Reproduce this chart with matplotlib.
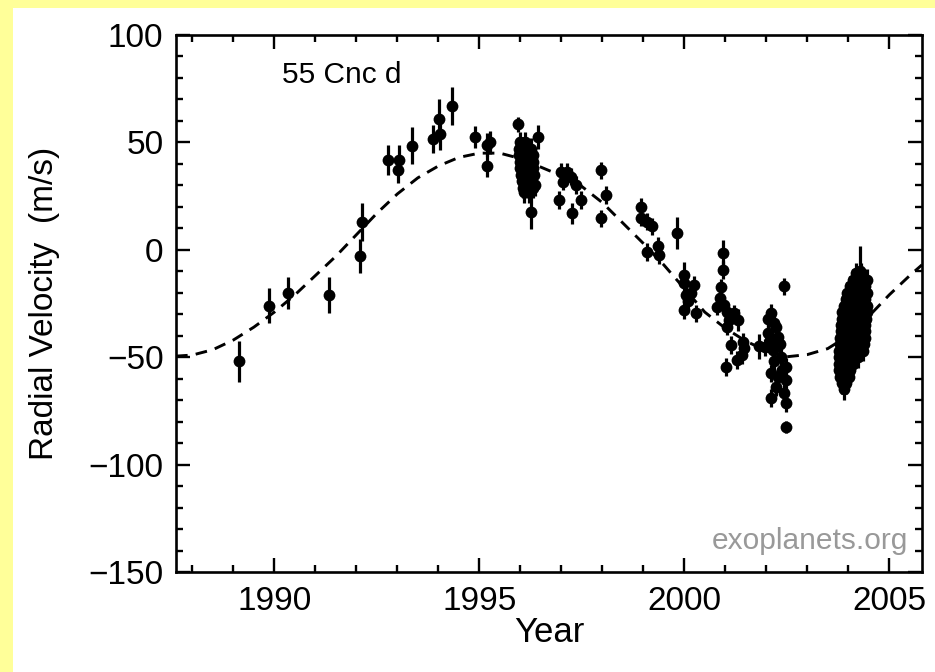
import matplotlib
matplotlib.use("Agg")
import matplotlib.pyplot as plt
from matplotlib.patches import Rectangle
from matplotlib.ticker import MultipleLocator
import numpy as np

plt.rcParams['font.family'] = ['Liberation Sans', 'DejaVu Sans']

# ---- Data ----
# early observations (year, rv, err)
early_year = [1989.13, 1989.86, 1990.33, 1991.34, 1992.08, 1992.14, 1992.78, 1993.04, 1993.02,
              1993.36, 1993.87, 1994.04, 1994.01, 1994.34, 1994.89, 1995.18, 1995.26, 1995.18,
              1995.95, 1996.43, 1996.25]
early_rv = [-52, -26, -20, -21, -3, 13, 42, 42, 37,
            48.5, 51.5, 54, 61, 67, 52.5, 49, 50, 39,
            58.5, 52.5, 17.5]
early_err = [9.5, 8, 7.5, 8.5, 8, 9, 7, 7, 6,
             8.5, 6.5, 7.5, 9, 9, 5, 5.5, 5.5, 5,
             3.5, 5.5, 8]

# 1996 cluster
c96_year = [1996.00, 1996.12,
            1995.98, 1996.06, 1996.16, 1996.26,
            1995.98, 1996.06, 1996.14, 1996.22, 1996.30,
            1996.00, 1996.08, 1996.16, 1996.24, 1996.32,
            1996.00, 1996.08, 1996.16, 1996.24, 1996.32,
            1996.02, 1996.10, 1996.18, 1996.26, 1996.34,
            1996.04, 1996.12, 1996.20, 1996.28,
            1996.06, 1996.14, 1996.30,
            1996.08, 1996.22, 1996.35]
c96_rv = [50, 50,
          47, 47, 47, 47,
          44, 44, 44, 44, 44,
          41, 41, 41, 41, 41,
          38, 38, 38, 38, 38,
          35, 35, 35, 35, 35,
          32, 32, 32, 32,
          29, 29, 29,
          27, 27, 30]
c96_err = [5] * len(c96_rv)

# 1997 - 2000 observations
mid_year = [1996.99, 1997.15, 1997.03, 1997.23, 1997.35, 1996.95, 1997.27, 1997.48,
            1997.97, 1998.09, 1997.97,
            1998.94, 1998.94, 1999.10, 1999.22, 1999.35, 1999.10, 1999.38, 1999.82,
            2000.00, 2000.00, 2000.24, 2000.04, 2000.16, 2000.00, 2000.28, 2000.08]
mid_rv = [36.4, 36.4, 31.7, 34, 30.2, 23.2, 17, 23.2,
          37, 25.5, 14.7,
          20, 15, 13, 11, 2, -1, -2.5, 8,
          -11.7, -15.6, -16.4, -21, -20.3, -28, -29.6, -24]
mid_err = [4, 4, 4, 4, 4, 4, 5, 4,
           4, 4, 4,
           4, 4, 4, 4, 4, 4, 4, 7.5,
           6, 4, 4, 4, 4, 4, 4, 4]

# 2001 - 2002 observations
late_year = [2000.94, 2000.95, 2000.90, 2000.88, 2000.97, 2001.05, 2001.22, 2001.10, 2001.30,
             2001.05, 2000.80, 2001.15, 2001.43, 2001.45, 2001.41, 2001.29, 2001.03,
             2001.83, 2002.44, 2002.12, 2002.19, 2002.04, 2002.29, 2001.97, 2002.16, 2002.36,
             2002.48, 2002.12, 2002.29, 2002.48, 2002.24, 2002.44, 2002.12, 2002.48, 2002.48,
             2002.05, 2002.25, 2002.10, 2002.33, 2002.20, 2002.38]
late_rv = [-1.5, -9.4, -17.5, -22.6, -25.7, -28.8, -29.6, -32.7, -32.7,
           -35.8, -26.5, -44.3, -42.8, -45.8, -49, -51.3, -54.6,
           -45, -17, -29.4, -34.1, -38.7, -40.6, -45.3, -46.6, -49.9,
           -54.6, -57.4, -59.2, -60.6, -63.9, -66.7, -69, -71.3, -82.5,
           -32, -36, -42, -44, -52, -56]
late_err = [6, 4, 4, 4, 4, 4, 4, 4, 5,
            4, 4, 4, 4, 4, 4, 4, 4,
            6, 4, 4, 4, 4, 4, 4, 4, 4,
            4, 4, 4, 4, 4, 4, 4, 4, 3,
            4, 4, 4, 4, 4, 4]

# 2004 cluster
c04_year = [2003.90,
            2003.85, 2003.95,
            2003.80, 2003.92, 2004.02,
            2003.78, 2003.90, 2004.05,
            2003.77, 2003.88, 2004.00, 2004.12,
            2003.78, 2003.90, 2004.02, 2004.15, 2004.25,
            2003.78, 2003.90, 2004.02, 2004.14, 2004.28, 2004.36,
            2003.80, 2003.92, 2004.04, 2004.16, 2004.28, 2004.38,
            2003.80, 2003.92, 2004.04, 2004.16, 2004.28, 2004.40,
            2003.82, 2003.94, 2004.06, 2004.18, 2004.30, 2004.42,
            2003.82, 2003.94, 2004.06, 2004.18, 2004.30, 2004.42,
            2003.84, 2003.96, 2004.08, 2004.20, 2004.32, 2004.44,
            2003.86, 2003.98, 2004.10, 2004.22, 2004.34, 2004.45,
            2003.90, 2004.02, 2004.14, 2004.26, 2004.38, 2004.46,
            2003.94, 2004.06, 2004.18, 2004.30, 2004.42,
            2003.98, 2004.10, 2004.22, 2004.34, 2004.45,
            2004.05, 2004.17, 2004.29, 2004.40,
            2004.12, 2004.25, 2004.38, 2004.46,
            2004.20, 2004.32,
            2004.28]
c04_rv = [-65,
          -62, -62,
          -59, -59, -59,
          -56, -56, -56,
          -53, -53, -53, -53,
          -50, -50, -50, -50, -50,
          -47, -47, -47, -47, -47, -47,
          -44, -44, -44, -44, -44, -44,
          -41, -41, -41, -41, -41, -41,
          -38, -38, -38, -38, -38, -38,
          -35, -35, -35, -35, -35, -35,
          -32, -32, -32, -32, -32, -32,
          -29, -29, -29, -29, -29, -29,
          -26, -26, -26, -26, -26, -26,
          -23, -23, -23, -23, -23,
          -20, -20, -20, -20, -20,
          -17, -17, -17, -17,
          -14, -14, -14, -14,
          -11, -11,
          -10]
c04_err = [5] * (len(c04_rv) - 1) + [12]

# model curve
curve_year = [1987.6, 1988.0, 1988.5, 1989.0, 1989.5, 1990.0, 1990.5, 1991.0, 1991.5,
              1992.0, 1992.5, 1993.0, 1993.5, 1994.0, 1994.5, 1995.0, 1995.5, 1996.0,
              1996.5, 1997.0, 1997.5, 1998.0, 1998.5, 1999.0, 1999.5, 2000.0, 2000.5,
              2001.0, 2001.5, 2002.0, 2002.5, 2003.0, 2003.5, 2004.0, 2004.5, 2005.0,
              2005.5, 2005.8]
curve_rv = [-49.5, -49, -46.5, -42, -36, -29, -21, -12, -3,
            7, 17, 26, 33.5, 39, 43, 45, 45, 42.5,
            38.5, 34.5, 29.5, 22, 12.5, 3, -7, -18, -29,
            -36.5, -42.5, -47, -49.8, -48.8, -46, -40, -31, -21,
            -12, -7]

x_ticks = [1990, 1995, 2000, 2005]
y_ticks = [-150, -100, -50, 0, 50, 100]
y_ticklabels = ['\u2212150', '\u2212100', '\u221250', '0', '50', '100']

# ---- Figure ----
W, H = 935, 672
fig = plt.figure(figsize=(W / 100, H / 100), dpi=100, facecolor='#ffff99')
bg = Rectangle((13 / W, 0), 1 - 13 / W, 1 - 8 / H, transform=fig.transFigure,
               facecolor='white', edgecolor='none', zorder=-10)
fig.add_artist(bg)

ax = fig.add_axes([176 / W, 100 / H, 746 / W, 537 / H])
ax.set_zorder(1)
ax.set_facecolor('white')

ax.plot(curve_year, curve_rv, color='black', lw=2.1, linestyle=(0, (4.0, 2.8)), zorder=2)

for yrs, rvs, errs in [(early_year, early_rv, early_err), (c96_year, c96_rv, c96_err),
                       (mid_year, mid_rv, mid_err), (late_year, late_rv, late_err),
                       (c04_year, c04_rv, c04_err)]:
    ax.errorbar(yrs, rvs, yerr=errs, fmt='o', color='black', ms=8.5, elinewidth=2.3,
                capsize=0, mew=0, zorder=3)

ax.set_xlim(1987.6, 2005.8)
ax.set_ylim(-150, 100)
ax.set_xticks(x_ticks)
ax.set_yticks(y_ticks)
ax.set_yticklabels(y_ticklabels)
ax.xaxis.set_minor_locator(MultipleLocator(1))
ax.yaxis.set_minor_locator(MultipleLocator(10))
ax.tick_params(which='both', direction='in', top=True, right=True, width=1.7, colors='black')
ax.tick_params(which='major', length=10, labelsize=24)
ax.tick_params(which='minor', length=5)
ax.tick_params(axis='x', which='major', pad=10)
ax.tick_params(axis='y', which='major', pad=9)
for s in ax.spines.values():
    s.set_linewidth(1.9)

ax.set_xlabel('Year', fontsize=25)
ax.xaxis.set_label_coords(0.5, -(632 - 572) / 537)
ax.xaxis.label.set_va('center')
ax.set_ylabel('Radial Velocity  (m/s)', fontsize=24)
ax.yaxis.set_label_coords(-(176 - 45) / 746, 0.5)
ax.yaxis.label.set_va('center')

ax.text(0.142, 0.925, '55 Cnc d', transform=ax.transAxes, fontsize=21.5, ha='left', va='center')
ax.text(0.981, 0.058, 'exoplanets.org', transform=ax.transAxes, fontsize=21.5, ha='right',
        va='center', color='#999999')

fig.savefig('out.png', dpi=100, facecolor=fig.get_facecolor())
